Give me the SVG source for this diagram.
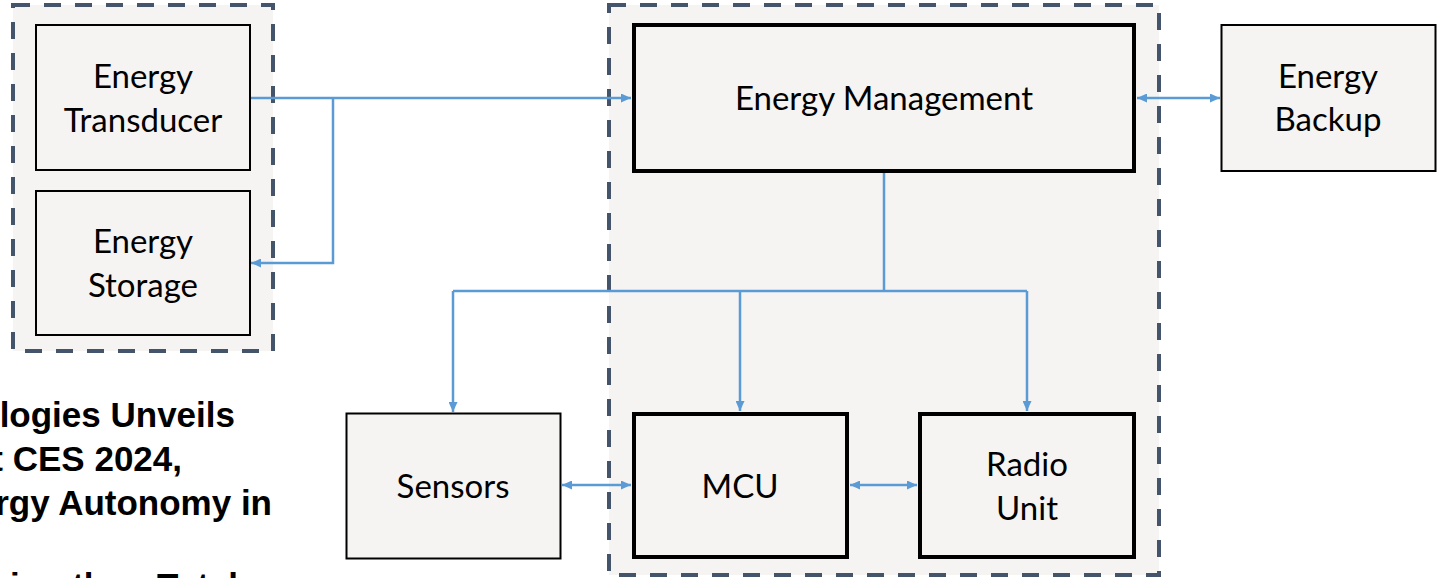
<svg xmlns="http://www.w3.org/2000/svg" width="1439" height="578" viewBox="0 0 1439 578">
  <style>
    .grp { fill: #f5f4f2; stroke: #44546a; stroke-width: 4; stroke-dasharray: 17 14; }
    .box { fill: #f5f4f2; stroke: #000; stroke-width: 2; }
    .thick { fill: #f5f4f2; stroke: #000; stroke-width: 4; }
    .lbl { font-family: Lato, "Open Sans", "Noto Sans", sans-serif; font-size: 33px; fill: #000; text-anchor: middle; }
    .con { fill: none; stroke: #5b9bd5; stroke-width: 2.5; }
    .art { font-family: "Liberation Sans", Arial, sans-serif; font-weight: bold; font-size: 35px; fill: #000; }
  </style>
  <defs>
    <marker id="ah" viewBox="0 0 10 9" refX="10" refY="4.5" markerWidth="10" markerHeight="9" markerUnits="userSpaceOnUse" orient="auto-start-reverse">
      <path d="M0,0 L10,4.5 L0,9 z" fill="#5b9bd5"/>
    </marker>
  </defs>
  <rect width="1439" height="578" fill="#ffffff"/>

  <g id="group-source">
    <rect class="grp" x="13" y="5" width="260" height="346"/>
  </g>
  <g id="group-device">
    <rect class="grp" x="609" y="5" width="550" height="570"/>
  </g>

  <g id="article-text" class="art">
    <text x="235" y="427" text-anchor="end">logies Unveils</text>
    <text x="182" y="471" text-anchor="end">t CES 2024,</text>
    <text x="272" y="515" text-anchor="end">rgy Autonomy in</text>
    <text x="10" y="598">ing the <tspan x="157">Total</tspan></text>
  </g>

  <g id="connectors">
    <path class="con" d="M250,98 H631" marker-end="url(#ah)"/>
    <path class="con" d="M333,98 V263 H251" marker-end="url(#ah)"/>
    <path class="con" d="M1137,98 H1220" marker-start="url(#ah)" marker-end="url(#ah)"/>
    <path class="con" d="M884,173 V291"/>
    <path class="con" d="M453,291 H1027"/>
    <path class="con" d="M453,291 V412" marker-end="url(#ah)"/>
    <path class="con" d="M740,291 V411" marker-end="url(#ah)"/>
    <path class="con" d="M1027,291 V411" marker-end="url(#ah)"/>
    <path class="con" d="M562,485 H631" marker-start="url(#ah)" marker-end="url(#ah)"/>
    <path class="con" d="M850,485 H917" marker-start="url(#ah)" marker-end="url(#ah)"/>
  </g>

  <g id="energy-transducer">
    <rect class="box" x="36" y="25" width="214" height="145"/>
    <text class="lbl" x="143" y="88">Energy</text>
    <text class="lbl" x="143" y="132">Transducer</text>
  </g>
  <g id="energy-storage">
    <rect class="box" x="36" y="191" width="214" height="144"/>
    <text class="lbl" x="143" y="253">Energy</text>
    <text class="lbl" x="143" y="297">Storage</text>
  </g>
  <g id="energy-management">
    <rect class="thick" x="634" y="25" width="500" height="146"/>
    <text class="lbl" x="884" y="110">Energy Management</text>
  </g>
  <g id="energy-backup">
    <rect class="box" x="1221.5" y="25" width="214" height="146"/>
    <text class="lbl" x="1328" y="88">Energy</text>
    <text class="lbl" x="1328" y="131">Backup</text>
  </g>
  <g id="sensors">
    <rect class="box" x="346.5" y="413.5" width="214" height="145"/>
    <text class="lbl" x="453" y="498">Sensors</text>
  </g>
  <g id="mcu">
    <rect class="thick" x="634" y="414" width="213" height="143"/>
    <text class="lbl" x="740" y="498">MCU</text>
  </g>
  <g id="radio-unit">
    <rect class="thick" x="920" y="414" width="214" height="143"/>
    <text class="lbl" x="1027" y="476">Radio</text>
    <text class="lbl" x="1027" y="520">Unit</text>
  </g>
</svg>
